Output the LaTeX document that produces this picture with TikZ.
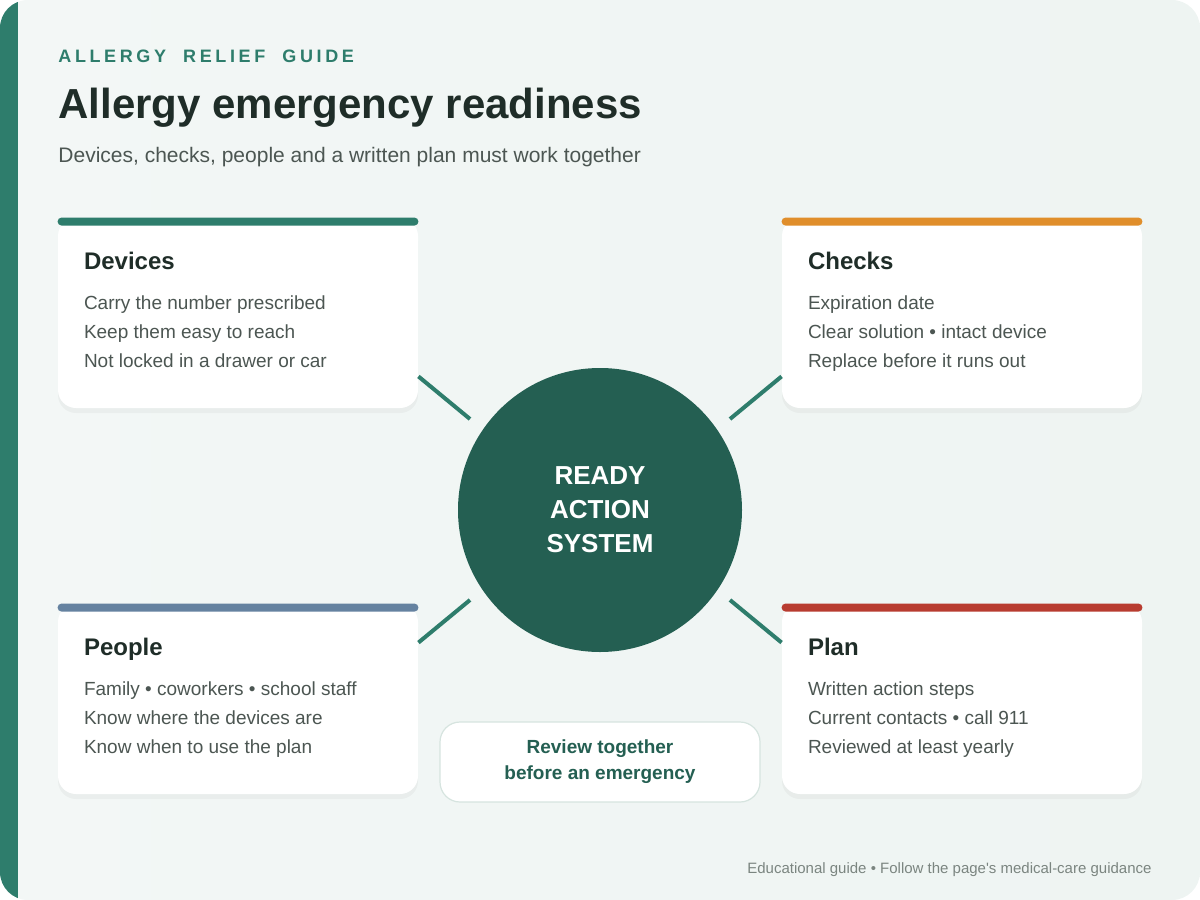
\documentclass[tikz,border=0pt]{standalone}
\usepackage{fontspec}
\setmainfont{Liberation Sans}
\newfontfamily\footfont{Liberation Sans}[Ligatures=TeXOff]
\newfontfamily\kickerfont{Liberation Sans}[LetterSpace=20, WordSpace=2]
\usetikzlibrary{calc,shadows}

\definecolor{guideGreen}{HTML}{2E7D6C}
\definecolor{hubGreen}{HTML}{245F52}
\definecolor{inkDark}{HTML}{1F2D28}
\definecolor{inkBody}{HTML}{4C5652}
\definecolor{inkFoot}{HTML}{7B8580}
\definecolor{pageBg}{HTML}{F3F7F6}
\definecolor{pageBgB}{HTML}{EEF4F2}
\definecolor{barOrange}{HTML}{E08E2B}
\definecolor{barSlate}{HTML}{6582A0}
\definecolor{barRed}{HTML}{B83C30}
\definecolor{reviewEdge}{HTML}{D6E4DF}

\begin{document}
\begin{tikzpicture}[x=0.5pt, y=-0.5pt, line width=.45pt,
    card/.style={fill=white, rounded corners=9pt, minimum width=180pt, minimum height=95pt,
      drop shadow={shadow xshift=0pt, shadow yshift=-2.5pt, opacity=.07}},
    cardtitle/.style={anchor=base west, inner sep=0pt, text=inkDark, font=\fontsize{12}{14}\selectfont\bfseries},
    cardtext/.style={anchor=base west, inner sep=0pt, text=inkBody, font=\fontsize{9.5}{11}\selectfont},
    link/.style={guideGreen, line width=2pt}]
    \useasboundingbox (0,0) rectangle (1200,900);
    % page
    \begin{scope}
      \clip[rounded corners=14pt] (0,0) rectangle (1200,900);
      \shade[left color=pageBg, right color=pageBgB] (0,0) rectangle (1200,900);
      \fill[guideGreen] (0,0) rectangle (18,900);
    \end{scope}

    \node[anchor=base west, inner sep=0pt, text=guideGreen,
      font=\kickerfont\fontsize{9}{11}\selectfont\bfseries] (kicker) at (58,62) {ALLERGY RELIEF GUIDE};
    \node[anchor=base west, inner sep=0pt, text=inkDark, font=\fontsize{21}{25}\selectfont\bfseries] (title) at (58,118) {Allergy emergency readiness};
    \node[anchor=base west, inner sep=0pt, text=inkBody, font=\fontsize{10.5}{12}\selectfont] (sub) at (58,162) {Devices, checks, people and a written plan must work together};

    \foreach \name/\cx/\cy/\col/\title/\la/\lb/\lc in {
      devices/238/313/guideGreen/Devices/Carry the number prescribed/Keep them easy to reach/Not locked in a drawer or car,
      checks/962/313/barOrange/Checks/Expiration date/Clear solution • intact device/Replace before it runs out,
      people/238/699/barSlate/People/Family • coworkers • school staff/Know where the devices are/Know when to use the plan,
      plan/962/699/barRed/Plan/Written action steps/Current contacts • call 911/Reviewed at least yearly} {
      \node[card] (\name) at (\cx,\cy) {};
      \fill[\col, rounded corners=2pt] (\name.north west) rectangle ([yshift=-4pt]\name.north east);
      \node[cardtitle] (\name-t) at ($(\name.north west)+(26,52)$) {\title};
      \node[cardtext] (\name-a) at ($(\name.north west)+(26,92)$) {\la};
      \node[cardtext] (\name-b) at ($(\name.north west)+(26,121)$) {\lb};
      \node[cardtext] (\name-c) at ($(\name.north west)+(26,150)$) {\lc};
    }

    \node[circle, fill=hubGreen, minimum size=142pt, text=white, align=center,
      font=\fontsize{13}{17}\selectfont\bfseries] (ready) at (600,510) {READY\\ACTION\\SYSTEM};

    \draw[link] ($(devices.south east)+(0,-32)$) -- ($(ready)+(-130,-91)$);
    \draw[link] ($(checks.south west)+(0,-32)$) -- ($(ready)+(130,-91)$);
    \draw[link] ($(people.north east)+(0,39)$) -- ($(ready)+(-130,90)$);
    \draw[link] ($(plan.north west)+(0,39)$) -- ($(ready)+(130,90)$);

    \node[draw=reviewEdge, fill=white, rounded corners=10pt, line width=.6pt, minimum width=160pt, minimum height=40pt,
      text=hubGreen, align=center, font=\fontsize{9.5}{13}\selectfont\bfseries] (review) at (600,762) {Review together\\before an emergency};

    \node[anchor=base east, inner sep=0pt, text=inkFoot, font=\footfont\fontsize{7.5}{9}\selectfont] (foot) at (1152,873)
      {Educational guide • Follow the page's medical-care guidance};
  \end{tikzpicture}
\end{document}
